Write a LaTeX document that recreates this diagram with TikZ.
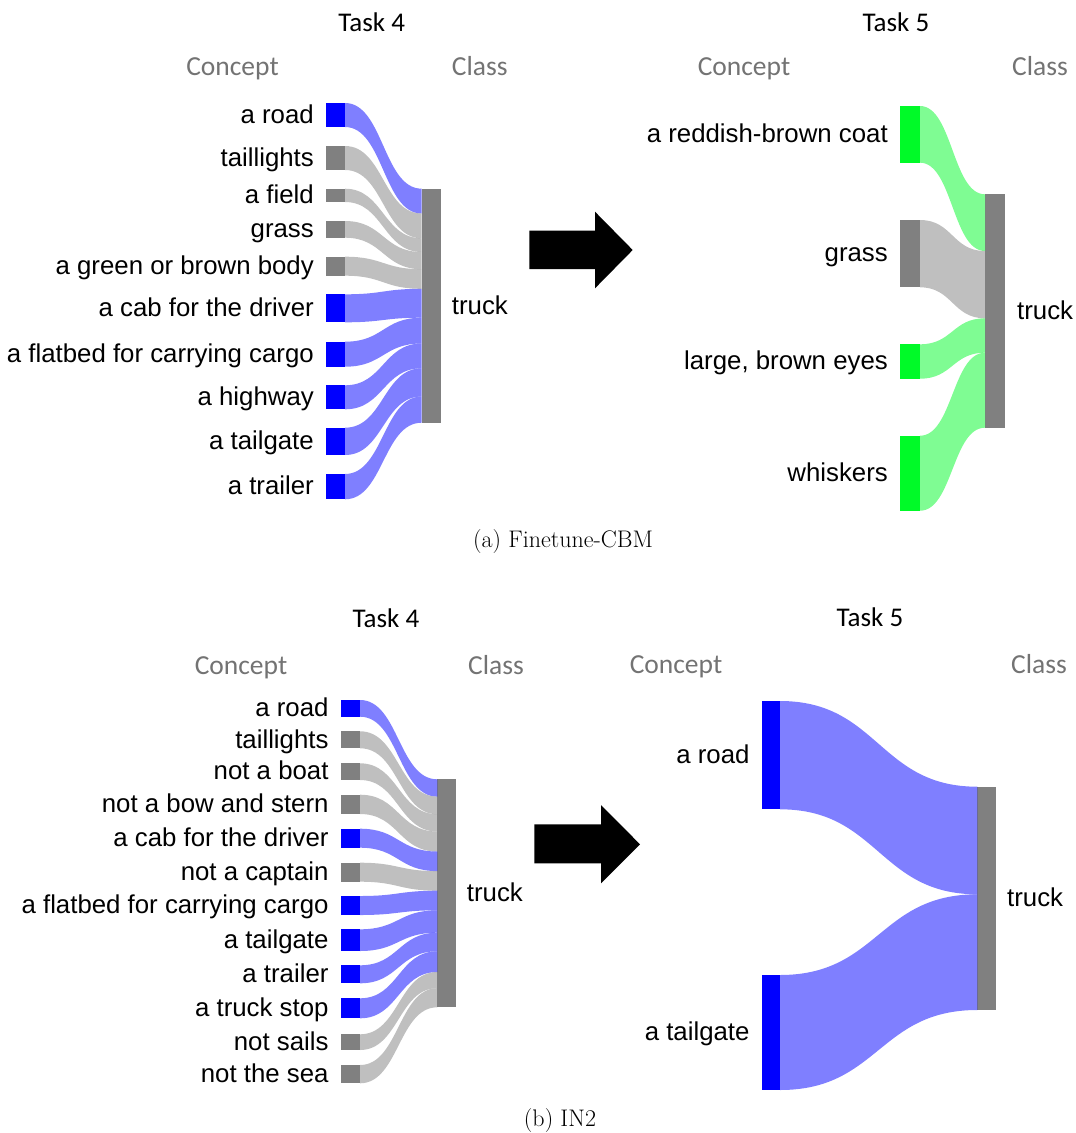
\documentclass[tikz,border=0pt]{standalone}
\usepackage{fontspec}
\usetikzlibrary{calc,positioning}
\newfontfamily\labfont{Liberation Sans}
\newfontfamily\headfont{Carlito}
\definecolor{cblue}{RGB}{0,0,255}
\definecolor{cgrey}{RGB}{128,128,128}
\definecolor{cgreen}{RGB}{0,250,40}
\definecolor{headgrey}{RGB}{115,115,115}

% a Sankey band from the right side of a concept bar to a slice of a class bar
\newcommand\flowband[5]{%
  \fill[#5, fill opacity=0.5]
    let \p1=(#1.north east), \p2=(#1.south east),
        \p3=($(#2.north west)+(0,#3)$), \p4=($(#2.north west)+(0,#4)$),
        \n1={0.5*(\x1+\x3)}
    in (\p1) .. controls (\n1,\y1) and (\n1,\y3) .. (\p3)
       -- (\p4) .. controls (\n1,\y4) and (\n1,\y2) .. (\p2) -- cycle;}
% a bar: name, left x, top y, bottom y, width, colour
\newcommand\sbar[6]{%
  \node[barnode, fill=#6, minimum width=#5, minimum height={(#4)-(#3)}, anchor=north west] (#1) at (#2,#3) {};}

\begin{document}
\begin{tikzpicture}[x=1pt,y=-1pt,
  barnode/.style={rectangle, inner sep=0pt, outer sep=0pt, draw=none},
  lab/.style={font=\labfont\fontsize{25.8}{30}\selectfont, inner sep=0pt, text height=20pt, text depth=3.4pt},
  task/.style={font=\headfont\fontsize{27}{32}\selectfont, inner sep=0pt, anchor=base},
  colhead/.style={font=\headfont\fontsize{27.5}{32}\selectfont, text=headgrey, inner sep=0pt, anchor=base},
  caption/.style={font=\fontsize{24}{28}\selectfont, inner sep=0pt, anchor=base},
  bigarrow/.style={fill=black}]
\path[use as bounding box] (0,0) rectangle (1076,1133);

% ---------------- (a) Finetune-CBM, Task 4 ----------------
\node[task] (ta4) at (371.7,31.7) {Task 4};
\node[colhead] (ca4) at (232.5,75) {Concept};
\node[colhead] (cl4) at (479.7,75) {Class};

\sbar{A1}{326}{103}{127}{19}{cblue}
\sbar{A2}{326}{146}{170}{19}{cgrey}
\sbar{A3}{326}{188.7}{202}{19}{cgrey}
\sbar{A4}{326}{221}{237.7}{19}{cgrey}
\sbar{A5}{326}{256.7}{275.7}{19}{cgrey}
\sbar{A6}{326}{294.3}{322.3}{19}{cblue}
\sbar{A7}{326}{341.7}{366.7}{19}{cblue}
\sbar{A8}{326}{385.3}{409.3}{19}{cblue}
\sbar{A9}{326}{427.7}{455}{19}{cblue}
\sbar{A10}{326}{474}{499.3}{19}{cblue}
\sbar{AT}{421.7}{188.7}{422.7}{19}{cgrey}

\flowband{A1}{AT}{0}{24.8}{cblue}
\flowband{A2}{AT}{24.8}{49.6}{cgrey}
\flowband{A3}{AT}{49.6}{63.3}{cgrey}
\flowband{A4}{AT}{63.3}{80.5}{cgrey}
\flowband{A5}{AT}{80.5}{100.1}{cgrey}
\flowband{A6}{AT}{100.1}{129}{cblue}
\flowband{A7}{AT}{129}{154.8}{cblue}
\flowband{A8}{AT}{154.8}{179.6}{cblue}
\flowband{A9}{AT}{179.6}{207.8}{cblue}
\flowband{A10}{AT}{207.8}{234}{cblue}

\node[lab, left=12pt of A1] (lA1) {a road};
\node[lab, left=12pt of A2] (lA2) {taillights};
\node[lab, left=12pt of A3] (lA3) {a field};
\node[lab, left=12pt of A4] (lA4) {grass};
\node[lab, left=12pt of A5] (lA5) {a green or brown body};
\node[lab, left=12pt of A6] (lA6) {a cab for the driver};
\node[lab, left=12pt of A7] (lA7) {a flatbed for carrying cargo};
\node[lab, left=12pt of A8] (lA8) {a highway};
\node[lab, left=12pt of A9] (lA9) {a tailgate};
\node[lab, left=12pt of A10] (lA10) {a trailer};
\node[lab, right=11pt of AT] (lAT) {truck};

% arrow between the two tasks
\fill[bigarrow] (529.3,230.7) -- (595,230.7) -- (595,211.7) -- (632.7,250)
  -- (595,288.3) -- (595,269) -- (529.3,269) -- cycle;

% ---------------- (a) Finetune-CBM, Task 5 ----------------
\node[task] (ta5) at (896,31.7) {Task 5};
\node[colhead] (ca5) at (744,75) {Concept};
\node[colhead] (cl5) at (1040,75) {Class};

\sbar{B1}{900}{106}{162.7}{20}{cgreen}
\sbar{B2}{900}{220}{287.3}{20}{cgrey}
\sbar{B3}{900}{344.3}{378.7}{20}{cgreen}
\sbar{B4}{900}{435.7}{510.7}{20}{cgreen}
\sbar{BT}{985}{194.3}{427.7}{20}{cgrey}

\flowband{B1}{BT}{0}{56.7}{cgreen}
\flowband{B2}{BT}{56.7}{124}{cgrey}
\flowband{B3}{BT}{124}{158.4}{cgreen}
\flowband{B4}{BT}{158.4}{233.4}{cgreen}

\node[lab, left=12pt of B1] (lB1) {a reddish-brown coat};
\node[lab, left=12pt of B2] (lB2) {grass};
\node[lab, left=12pt of B3] (lB3) {large, brown eyes};
\node[lab, left=12pt of B4] (lB4) {whiskers};
\node[lab, right=12pt of BT] (lBT) {truck};

\node[caption] (capa) at (563,547) {(a) Finetune-CBM};

% ---------------- (b) IN2, Task 4 ----------------
\node[task] (tb4) at (386,627.7) {Task 4};
\node[colhead] (cb4) at (241,674) {Concept};
\node[colhead] (clb4) at (496,674) {Class};

\sbar{C1}{340.7}{700}{716.7}{19.3}{cblue}
\sbar{C2}{340.7}{731.3}{748.3}{19.3}{cgrey}
\sbar{C3}{340.7}{763.3}{780}{19.3}{cgrey}
\sbar{C4}{340.7}{794.7}{814}{19.3}{cgrey}
\sbar{C5}{340.7}{828.7}{847.7}{19.3}{cblue}
\sbar{C6}{340.7}{862.7}{881.7}{19.3}{cgrey}
\sbar{C7}{340.7}{896}{915}{19.3}{cblue}
\sbar{C8}{340.7}{929.3}{951}{19.3}{cblue}
\sbar{C9}{340.7}{965.3}{983.3}{19.3}{cblue}
\sbar{C10}{340.7}{998.3}{1018.3}{19.3}{cblue}
\sbar{C11}{340.7}{1034.3}{1050}{19.3}{cgrey}
\sbar{C12}{340.7}{1065}{1083.3}{19.3}{cgrey}
\sbar{CT}{437.3}{779.3}{1007.3}{18.4}{cgrey}

\flowband{C1}{CT}{0}{17.3}{cblue}
\flowband{C2}{CT}{17.3}{34.9}{cgrey}
\flowband{C3}{CT}{34.9}{52.2}{cgrey}
\flowband{C4}{CT}{52.2}{72.2}{cgrey}
\flowband{C5}{CT}{72.2}{91.8}{cblue}
\flowband{C6}{CT}{91.8}{111.4}{cgrey}
\flowband{C7}{CT}{111.4}{131}{cblue}
\flowband{C8}{CT}{131}{153.4}{cblue}
\flowband{C9}{CT}{153.4}{172}{cblue}
\flowband{C10}{CT}{172}{192.7}{cblue}
\flowband{C11}{CT}{192.7}{208.9}{cgrey}
\flowband{C12}{CT}{208.9}{228}{cgrey}

\node[lab, left=12pt of C1] (lC1) {a road};
\node[lab, left=12pt of C2] (lC2) {taillights};
\node[lab, left=12pt of C3] (lC3) {not a boat};
\node[lab, left=12pt of C4] (lC4) {not a bow and stern};
\node[lab, left=12pt of C5] (lC5) {a cab for the driver};
\node[lab, left=12pt of C6] (lC6) {not a captain};
\node[lab, left=12pt of C7] (lC7) {a flatbed for carrying cargo};
\node[lab, left=12pt of C8] (lC8) {a tailgate};
\node[lab, left=12pt of C9] (lC9) {a trailer};
\node[lab, left=12pt of C10] (lC10) {a truck stop};
\node[lab, left=12pt of C11] (lC11) {not sails};
\node[lab, left=12pt of C12] (lC12) {not the sea};
\node[lab, right=11pt of CT] (lCT) {truck};

\fill[bigarrow] (534.3,824.3) -- (601,824.3) -- (601,805) -- (640,844.3)
  -- (601,883.3) -- (601,863.3) -- (534.3,863.3) -- cycle;

% ---------------- (b) IN2, Task 5 ----------------
\node[task] (tb5) at (870,626.7) {Task 5};
\node[colhead] (cb5) at (676,673.3) {Concept};
\node[colhead] (clb5) at (1039,673.3) {Class};

\sbar{D1}{761.7}{701}{809.3}{18.3}{cblue}
\sbar{D2}{761.7}{975}{1090}{18.3}{cblue}
\sbar{DT}{977.3}{786.7}{1010}{18.7}{cgrey}

\flowband{D1}{DT}{0}{107.6}{cblue}
\flowband{D2}{DT}{107.6}{223.3}{cblue}

\node[lab, left=12pt of D1] (lD1) {a road};
\node[lab, left=12pt of D2] (lD2) {a tailgate};
\node[lab, right=11pt of DT] (lDT) {truck};

\node[caption] (capb) at (560,1126) {(b) IN2};
\end{tikzpicture}
\end{document}
